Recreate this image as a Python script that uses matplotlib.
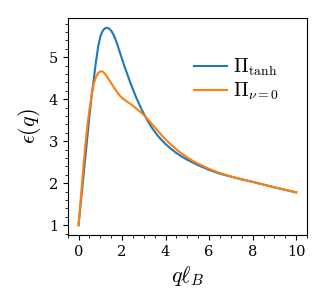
import matplotlib
matplotlib.use("Agg")
import matplotlib.pyplot as plt
from matplotlib.ticker import MultipleLocator

plt.rcParams['mathtext.fontset'] = 'cm'
plt.rcParams['font.family'] = ['DejaVu Serif']

q_tanh = [0, 0.1, 0.2, 0.3, 0.4, 0.5, 0.6, 0.7, 0.8, 0.9, 1.0, 1.1, 1.2, 1.3, 1.4,
          1.5, 1.6, 1.7, 1.8, 1.9, 2.0, 2.1, 2.2, 2.3, 2.4, 2.5, 2.6, 2.7, 2.8,
          2.9, 3.0, 3.2, 3.4, 3.6, 3.8, 4.0, 4.25, 4.5, 4.75, 5.0, 5.5, 6.0, 6.5,
          7.0, 7.5, 8.0, 8.5, 9.0, 9.5, 10.0]
eps_tanh = [1.0, 1.52, 2.04, 2.56, 3.08, 3.6, 4.08, 4.48, 4.9, 5.25, 5.49, 5.62,
            5.68, 5.7, 5.68, 5.63, 5.54, 5.42, 5.27, 5.11, 4.95, 4.795, 4.65,
            4.505, 4.365, 4.23, 4.1, 3.98, 3.865, 3.755, 3.65, 3.46, 3.295,
            3.155, 3.035, 2.93, 2.815, 2.715, 2.63, 2.555, 2.425, 2.315, 2.225,
            2.155, 2.09, 2.03, 1.965, 1.9, 1.84, 1.78]

q_nu0 = [0, 0.1, 0.2, 0.3, 0.4, 0.5, 0.6, 0.7, 0.8, 0.9, 1.0, 1.1, 1.2, 1.3, 1.4,
         1.5, 1.6, 1.7, 1.8, 1.9, 2.0, 2.2, 2.4, 2.6, 2.8, 3.0, 3.2, 3.4, 3.6,
         3.8, 4.0, 4.25, 4.5, 4.75, 5.0, 5.25, 5.5, 6.0, 6.5, 7.0, 7.5, 8.0, 8.5,
         9.0, 9.5, 10.0]
eps_nu0 = [1.0, 1.63, 2.25, 2.85, 3.35, 3.75, 4.1, 4.37, 4.53, 4.62, 4.66, 4.66,
           4.61, 4.54, 4.46, 4.38, 4.3, 4.22, 4.15, 4.08, 4.03, 3.95, 3.88, 3.8,
           3.715, 3.62, 3.51, 3.39, 3.27, 3.15, 3.04, 2.915, 2.8, 2.7, 2.61,
           2.53, 2.46, 2.34, 2.24, 2.16, 2.09, 2.03, 1.965, 1.9, 1.84, 1.78]

fig = plt.figure(figsize=(3.27, 3.08), dpi=100)
ax = fig.add_axes([0.207, 0.237, 0.732, 0.705])
ax.plot(q_tanh, eps_tanh, color='#1f77b4', lw=1.5, label=r'$\Pi_{\mathrm{tanh}}$')
ax.plot(q_nu0, eps_nu0, color='#ff7f0e', lw=1.5, label=r'$\Pi_{\nu=0}$')
ax.set_xlabel(r'$q\ell_B$', fontsize=16)
ax.set_ylabel(r'$\epsilon(q)$', fontsize=16)
ax.xaxis.set_major_locator(MultipleLocator(2))
ax.xaxis.set_minor_locator(MultipleLocator(0.5))
ax.yaxis.set_major_locator(MultipleLocator(1))
ax.yaxis.set_minor_locator(MultipleLocator(0.2))
ax.tick_params(labelsize=10.5)
ax.legend(frameon=False, fontsize=14, loc='upper right', bbox_to_anchor=(0.955, 0.9),
          handlelength=1.7, handletextpad=0.3, labelspacing=0.1)
fig.savefig('out.png', dpi=100)
